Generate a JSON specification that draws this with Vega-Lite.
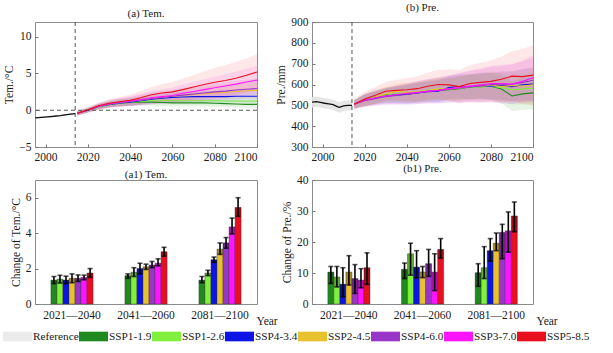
{
"$schema": "https://vega.github.io/schema/vega-lite/v6.json",
"background": "white",
"padding": {"left": 3, "top": 1, "right": 5, "bottom": 3},
"config": {
  "font": "Liberation Serif",
  "view": {"stroke": "#8c8c8c", "strokeWidth": 1},
  "axis": {"grid": false, "domain": false, "tickSize": -3, "tickColor": "#777", "tickCount": 12, "labelPadding": 7, "labelOverlap": false, "labelFont": "Liberation Serif", "labelFontSize": 11.5, "labelColor": "#1a1a1a", "titleFont": "Liberation Serif", "titleFontSize": 11.5, "titleFontWeight": "normal", "titleColor": "#1a1a1a", "titlePadding": 4},
  "title": {"font": "Liberation Serif", "fontSize": 11, "fontWeight": "normal", "color": "#1a1a1a", "offset": 0, "frame": "group"}
},
"datasets": {
"tem": [
{"s":"Reference","yr":1995,"m":-1.05,"lo":-1.15,"hi":-0.95},
{"s":"Reference","yr":1998,"m":-0.98,"lo":-1.08,"hi":-0.88},
{"s":"Reference","yr":2001,"m":-0.9,"lo":-1.0,"hi":-0.8},
{"s":"Reference","yr":2004,"m":-0.82,"lo":-0.92,"hi":-0.72},
{"s":"Reference","yr":2007,"m":-0.72,"lo":-0.82,"hi":-0.62},
{"s":"Reference","yr":2010,"m":-0.6,"lo":-0.7,"hi":-0.5},
{"s":"Reference","yr":2012,"m":-0.52,"lo":-0.62,"hi":-0.42},
{"s":"Reference","yr":2014,"m":-0.45,"lo":-0.55,"hi":-0.35},
{"s":"SSP1-1.9","yr":2015,"m":-0.4,"lo":-0.7,"hi":-0.1},
{"s":"SSP1-1.9","yr":2020,"m":0.0,"lo":-0.3,"hi":0.3},
{"s":"SSP1-1.9","yr":2025,"m":0.45,"lo":0.1,"hi":0.8},
{"s":"SSP1-1.9","yr":2030,"m":0.75,"lo":0.35,"hi":1.15},
{"s":"SSP1-1.9","yr":2035,"m":0.95,"lo":0.55,"hi":1.35},
{"s":"SSP1-1.9","yr":2040,"m":1.05,"lo":0.6,"hi":1.5},
{"s":"SSP1-1.9","yr":2045,"m":1.1,"lo":0.65,"hi":1.55},
{"s":"SSP1-1.9","yr":2050,"m":1.1,"lo":0.6,"hi":1.6},
{"s":"SSP1-1.9","yr":2055,"m":1.05,"lo":0.55,"hi":1.55},
{"s":"SSP1-1.9","yr":2060,"m":1.0,"lo":0.5,"hi":1.5},
{"s":"SSP1-1.9","yr":2065,"m":1.0,"lo":0.5,"hi":1.5},
{"s":"SSP1-1.9","yr":2070,"m":1.0,"lo":0.5,"hi":1.5},
{"s":"SSP1-1.9","yr":2075,"m":1.0,"lo":0.5,"hi":1.5},
{"s":"SSP1-1.9","yr":2080,"m":0.95,"lo":0.45,"hi":1.45},
{"s":"SSP1-1.9","yr":2085,"m":0.9,"lo":0.4,"hi":1.4},
{"s":"SSP1-1.9","yr":2090,"m":0.85,"lo":0.35,"hi":1.35},
{"s":"SSP1-1.9","yr":2095,"m":0.8,"lo":0.3,"hi":1.3},
{"s":"SSP1-1.9","yr":2100,"m":0.8,"lo":0.3,"hi":1.3},
{"s":"SSP1-2.6","yr":2015,"m":-0.4,"lo":-0.7,"hi":-0.1},
{"s":"SSP1-2.6","yr":2020,"m":0.0,"lo":-0.3,"hi":0.3},
{"s":"SSP1-2.6","yr":2025,"m":0.45,"lo":0.1,"hi":0.8},
{"s":"SSP1-2.6","yr":2030,"m":0.8,"lo":0.4,"hi":1.2},
{"s":"SSP1-2.6","yr":2035,"m":1.0,"lo":0.55,"hi":1.45},
{"s":"SSP1-2.6","yr":2040,"m":1.1,"lo":0.6,"hi":1.6},
{"s":"SSP1-2.6","yr":2045,"m":1.2,"lo":0.7,"hi":1.7},
{"s":"SSP1-2.6","yr":2050,"m":1.3,"lo":0.75,"hi":1.85},
{"s":"SSP1-2.6","yr":2055,"m":1.3,"lo":0.75,"hi":1.85},
{"s":"SSP1-2.6","yr":2060,"m":1.3,"lo":0.7,"hi":1.9},
{"s":"SSP1-2.6","yr":2065,"m":1.3,"lo":0.7,"hi":1.9},
{"s":"SSP1-2.6","yr":2070,"m":1.3,"lo":0.7,"hi":1.9},
{"s":"SSP1-2.6","yr":2075,"m":1.3,"lo":0.7,"hi":1.9},
{"s":"SSP1-2.6","yr":2080,"m":1.3,"lo":0.7,"hi":1.9},
{"s":"SSP1-2.6","yr":2085,"m":1.25,"lo":0.65,"hi":1.85},
{"s":"SSP1-2.6","yr":2090,"m":1.25,"lo":0.65,"hi":1.85},
{"s":"SSP1-2.6","yr":2095,"m":1.25,"lo":0.65,"hi":1.85},
{"s":"SSP1-2.6","yr":2100,"m":1.25,"lo":0.65,"hi":1.85},
{"s":"SSP4-3.4","yr":2015,"m":-0.4,"lo":-0.7,"hi":-0.1},
{"s":"SSP4-3.4","yr":2020,"m":0.0,"lo":-0.3,"hi":0.3},
{"s":"SSP4-3.4","yr":2025,"m":0.5,"lo":0.15,"hi":0.85},
{"s":"SSP4-3.4","yr":2030,"m":0.8,"lo":0.4,"hi":1.2},
{"s":"SSP4-3.4","yr":2035,"m":1.0,"lo":0.55,"hi":1.45},
{"s":"SSP4-3.4","yr":2040,"m":1.1,"lo":0.6,"hi":1.6},
{"s":"SSP4-3.4","yr":2045,"m":1.3,"lo":0.75,"hi":1.85},
{"s":"SSP4-3.4","yr":2050,"m":1.5,"lo":0.9,"hi":2.1},
{"s":"SSP4-3.4","yr":2055,"m":1.65,"lo":1.0,"hi":2.3},
{"s":"SSP4-3.4","yr":2060,"m":1.75,"lo":1.05,"hi":2.45},
{"s":"SSP4-3.4","yr":2065,"m":1.8,"lo":1.1,"hi":2.5},
{"s":"SSP4-3.4","yr":2070,"m":1.85,"lo":1.1,"hi":2.6},
{"s":"SSP4-3.4","yr":2075,"m":1.85,"lo":1.1,"hi":2.6},
{"s":"SSP4-3.4","yr":2080,"m":1.85,"lo":1.05,"hi":2.65},
{"s":"SSP4-3.4","yr":2085,"m":1.85,"lo":1.05,"hi":2.65},
{"s":"SSP4-3.4","yr":2090,"m":1.9,"lo":1.1,"hi":2.7},
{"s":"SSP4-3.4","yr":2095,"m":1.9,"lo":1.05,"hi":2.75},
{"s":"SSP4-3.4","yr":2100,"m":1.9,"lo":1.05,"hi":2.75},
{"s":"SSP2-4.5","yr":2015,"m":-0.4,"lo":-0.7,"hi":-0.1},
{"s":"SSP2-4.5","yr":2020,"m":0.0,"lo":-0.3,"hi":0.3},
{"s":"SSP2-4.5","yr":2025,"m":0.5,"lo":0.15,"hi":0.85},
{"s":"SSP2-4.5","yr":2030,"m":0.85,"lo":0.4,"hi":1.3},
{"s":"SSP2-4.5","yr":2035,"m":1.05,"lo":0.55,"hi":1.55},
{"s":"SSP2-4.5","yr":2040,"m":1.2,"lo":0.65,"hi":1.75},
{"s":"SSP2-4.5","yr":2045,"m":1.4,"lo":0.8,"hi":2.0},
{"s":"SSP2-4.5","yr":2050,"m":1.6,"lo":0.9,"hi":2.3},
{"s":"SSP2-4.5","yr":2055,"m":1.75,"lo":1.0,"hi":2.5},
{"s":"SSP2-4.5","yr":2060,"m":1.9,"lo":1.1,"hi":2.7},
{"s":"SSP2-4.5","yr":2065,"m":2.0,"lo":1.15,"hi":2.85},
{"s":"SSP2-4.5","yr":2070,"m":2.15,"lo":1.25,"hi":3.05},
{"s":"SSP2-4.5","yr":2075,"m":2.25,"lo":1.3,"hi":3.2},
{"s":"SSP2-4.5","yr":2080,"m":2.35,"lo":1.35,"hi":3.35},
{"s":"SSP2-4.5","yr":2085,"m":2.45,"lo":1.45,"hi":3.45},
{"s":"SSP2-4.5","yr":2090,"m":2.55,"lo":1.5,"hi":3.6},
{"s":"SSP2-4.5","yr":2095,"m":2.65,"lo":1.55,"hi":3.75},
{"s":"SSP2-4.5","yr":2100,"m":2.7,"lo":1.6,"hi":3.8},
{"s":"SSP4-6.0","yr":2015,"m":-0.4,"lo":-0.7,"hi":-0.1},
{"s":"SSP4-6.0","yr":2020,"m":0.0,"lo":-0.3,"hi":0.3},
{"s":"SSP4-6.0","yr":2025,"m":0.55,"lo":0.15,"hi":0.95},
{"s":"SSP4-6.0","yr":2030,"m":0.85,"lo":0.35,"hi":1.35},
{"s":"SSP4-6.0","yr":2035,"m":1.05,"lo":0.5,"hi":1.6},
{"s":"SSP4-6.0","yr":2040,"m":1.2,"lo":0.6,"hi":1.8},
{"s":"SSP4-6.0","yr":2045,"m":1.4,"lo":0.7,"hi":2.1},
{"s":"SSP4-6.0","yr":2050,"m":1.6,"lo":0.8,"hi":2.4},
{"s":"SSP4-6.0","yr":2055,"m":1.75,"lo":0.9,"hi":2.6},
{"s":"SSP4-6.0","yr":2060,"m":1.9,"lo":1.0,"hi":2.8},
{"s":"SSP4-6.0","yr":2065,"m":2.05,"lo":1.05,"hi":3.05},
{"s":"SSP4-6.0","yr":2070,"m":2.2,"lo":1.15,"hi":3.25},
{"s":"SSP4-6.0","yr":2075,"m":2.35,"lo":1.25,"hi":3.45},
{"s":"SSP4-6.0","yr":2080,"m":2.5,"lo":1.35,"hi":3.65},
{"s":"SSP4-6.0","yr":2085,"m":2.6,"lo":1.4,"hi":3.8},
{"s":"SSP4-6.0","yr":2090,"m":2.75,"lo":1.5,"hi":4.0},
{"s":"SSP4-6.0","yr":2095,"m":2.85,"lo":1.55,"hi":4.15},
{"s":"SSP4-6.0","yr":2100,"m":2.95,"lo":1.6,"hi":4.3},
{"s":"SSP3-7.0","yr":2015,"m":-0.4,"lo":-0.7,"hi":-0.1},
{"s":"SSP3-7.0","yr":2020,"m":0.0,"lo":-0.35,"hi":0.35},
{"s":"SSP3-7.0","yr":2025,"m":0.5,"lo":0.1,"hi":0.9},
{"s":"SSP3-7.0","yr":2030,"m":0.85,"lo":0.35,"hi":1.35},
{"s":"SSP3-7.0","yr":2035,"m":1.05,"lo":0.45,"hi":1.65},
{"s":"SSP3-7.0","yr":2040,"m":1.25,"lo":0.55,"hi":1.95},
{"s":"SSP3-7.0","yr":2045,"m":1.45,"lo":0.65,"hi":2.25},
{"s":"SSP3-7.0","yr":2050,"m":1.7,"lo":0.8,"hi":2.6},
{"s":"SSP3-7.0","yr":2055,"m":1.85,"lo":0.85,"hi":2.85},
{"s":"SSP3-7.0","yr":2060,"m":2.0,"lo":0.9,"hi":3.1},
{"s":"SSP3-7.0","yr":2065,"m":2.3,"lo":1.1,"hi":3.5},
{"s":"SSP3-7.0","yr":2070,"m":2.55,"lo":1.25,"hi":3.85},
{"s":"SSP3-7.0","yr":2075,"m":2.8,"lo":1.4,"hi":4.2},
{"s":"SSP3-7.0","yr":2080,"m":3.05,"lo":1.55,"hi":4.55},
{"s":"SSP3-7.0","yr":2085,"m":3.3,"lo":1.7,"hi":4.9},
{"s":"SSP3-7.0","yr":2090,"m":3.55,"lo":1.85,"hi":5.25},
{"s":"SSP3-7.0","yr":2095,"m":3.85,"lo":2.05,"hi":5.65},
{"s":"SSP3-7.0","yr":2100,"m":4.1,"lo":2.2,"hi":6.0},
{"s":"SSP5-8.5","yr":2015,"m":-0.4,"lo":-0.7,"hi":-0.1},
{"s":"SSP5-8.5","yr":2020,"m":0.05,"lo":-0.3,"hi":0.4},
{"s":"SSP5-8.5","yr":2025,"m":0.6,"lo":0.15,"hi":1.05},
{"s":"SSP5-8.5","yr":2030,"m":0.95,"lo":0.4,"hi":1.5},
{"s":"SSP5-8.5","yr":2035,"m":1.15,"lo":0.5,"hi":1.8},
{"s":"SSP5-8.5","yr":2040,"m":1.35,"lo":0.6,"hi":2.1},
{"s":"SSP5-8.5","yr":2045,"m":1.7,"lo":0.8,"hi":2.6},
{"s":"SSP5-8.5","yr":2050,"m":2.1,"lo":1.05,"hi":3.15},
{"s":"SSP5-8.5","yr":2055,"m":2.35,"lo":1.15,"hi":3.55},
{"s":"SSP5-8.5","yr":2060,"m":2.5,"lo":1.15,"hi":3.85},
{"s":"SSP5-8.5","yr":2065,"m":2.8,"lo":1.3,"hi":4.3},
{"s":"SSP5-8.5","yr":2070,"m":3.15,"lo":1.5,"hi":4.8},
{"s":"SSP5-8.5","yr":2075,"m":3.5,"lo":1.7,"hi":5.3},
{"s":"SSP5-8.5","yr":2080,"m":3.8,"lo":1.85,"hi":5.75},
{"s":"SSP5-8.5","yr":2085,"m":4.05,"lo":1.95,"hi":6.15},
{"s":"SSP5-8.5","yr":2090,"m":4.35,"lo":2.15,"hi":6.55},
{"s":"SSP5-8.5","yr":2095,"m":4.75,"lo":2.45,"hi":7.05},
{"s":"SSP5-8.5","yr":2100,"m":5.2,"lo":2.8,"hi":7.6}
],
"pre": [
{"s":"Reference","yr":1995,"m":515,"lo":490,"hi":540},
{"s":"Reference","yr":1997,"m":518,"lo":493,"hi":543},
{"s":"Reference","yr":1999,"m":514,"lo":489,"hi":539},
{"s":"Reference","yr":2001,"m":510,"lo":485,"hi":535},
{"s":"Reference","yr":2003,"m":507,"lo":482,"hi":532},
{"s":"Reference","yr":2005,"m":503,"lo":478,"hi":528},
{"s":"Reference","yr":2007,"m":494,"lo":469,"hi":519},
{"s":"Reference","yr":2008,"m":490,"lo":465,"hi":515},
{"s":"Reference","yr":2010,"m":497,"lo":472,"hi":522},
{"s":"Reference","yr":2012,"m":500,"lo":475,"hi":525},
{"s":"Reference","yr":2014,"m":500,"lo":475,"hi":525},
{"s":"SSP1-1.9","yr":2015,"m":505,"lo":485,"hi":525},
{"s":"SSP1-1.9","yr":2020,"m":525,"lo":497,"hi":553},
{"s":"SSP1-1.9","yr":2025,"m":540,"lo":508,"hi":572},
{"s":"SSP1-1.9","yr":2030,"m":550,"lo":514,"hi":586},
{"s":"SSP1-1.9","yr":2035,"m":553,"lo":513,"hi":593},
{"s":"SSP1-1.9","yr":2040,"m":555,"lo":510,"hi":600},
{"s":"SSP1-1.9","yr":2045,"m":560,"lo":512,"hi":608},
{"s":"SSP1-1.9","yr":2050,"m":568,"lo":518,"hi":618},
{"s":"SSP1-1.9","yr":2055,"m":572,"lo":519,"hi":625},
{"s":"SSP1-1.9","yr":2060,"m":575,"lo":520,"hi":630},
{"s":"SSP1-1.9","yr":2065,"m":580,"lo":522,"hi":638},
{"s":"SSP1-1.9","yr":2070,"m":588,"lo":528,"hi":648},
{"s":"SSP1-1.9","yr":2075,"m":590,"lo":528,"hi":652},
{"s":"SSP1-1.9","yr":2080,"m":592,"lo":527,"hi":657},
{"s":"SSP1-1.9","yr":2085,"m":578,"lo":510,"hi":646},
{"s":"SSP1-1.9","yr":2090,"m":545,"lo":473,"hi":617},
{"s":"SSP1-1.9","yr":2095,"m":555,"lo":479,"hi":631},
{"s":"SSP1-1.9","yr":2100,"m":560,"lo":480,"hi":640},
{"s":"SSP1-2.6","yr":2015,"m":505,"lo":485,"hi":525},
{"s":"SSP1-2.6","yr":2020,"m":528,"lo":500,"hi":556},
{"s":"SSP1-2.6","yr":2025,"m":538,"lo":506,"hi":570},
{"s":"SSP1-2.6","yr":2030,"m":548,"lo":512,"hi":584},
{"s":"SSP1-2.6","yr":2035,"m":555,"lo":515,"hi":595},
{"s":"SSP1-2.6","yr":2040,"m":560,"lo":515,"hi":605},
{"s":"SSP1-2.6","yr":2045,"m":565,"lo":517,"hi":613},
{"s":"SSP1-2.6","yr":2050,"m":572,"lo":522,"hi":622},
{"s":"SSP1-2.6","yr":2055,"m":578,"lo":525,"hi":631},
{"s":"SSP1-2.6","yr":2060,"m":580,"lo":525,"hi":635},
{"s":"SSP1-2.6","yr":2065,"m":582,"lo":524,"hi":640},
{"s":"SSP1-2.6","yr":2070,"m":590,"lo":530,"hi":650},
{"s":"SSP1-2.6","yr":2075,"m":588,"lo":526,"hi":650},
{"s":"SSP1-2.6","yr":2080,"m":592,"lo":527,"hi":657},
{"s":"SSP1-2.6","yr":2085,"m":585,"lo":517,"hi":653},
{"s":"SSP1-2.6","yr":2090,"m":575,"lo":503,"hi":647},
{"s":"SSP1-2.6","yr":2095,"m":578,"lo":502,"hi":654},
{"s":"SSP1-2.6","yr":2100,"m":582,"lo":502,"hi":662},
{"s":"SSP4-3.4","yr":2015,"m":505,"lo":485,"hi":525},
{"s":"SSP4-3.4","yr":2020,"m":525,"lo":497,"hi":553},
{"s":"SSP4-3.4","yr":2025,"m":535,"lo":503,"hi":567},
{"s":"SSP4-3.4","yr":2030,"m":545,"lo":509,"hi":581},
{"s":"SSP4-3.4","yr":2035,"m":550,"lo":510,"hi":590},
{"s":"SSP4-3.4","yr":2040,"m":553,"lo":508,"hi":598},
{"s":"SSP4-3.4","yr":2045,"m":560,"lo":512,"hi":608},
{"s":"SSP4-3.4","yr":2050,"m":565,"lo":515,"hi":615},
{"s":"SSP4-3.4","yr":2055,"m":568,"lo":515,"hi":621},
{"s":"SSP4-3.4","yr":2060,"m":585,"lo":530,"hi":640},
{"s":"SSP4-3.4","yr":2065,"m":590,"lo":532,"hi":648},
{"s":"SSP4-3.4","yr":2070,"m":588,"lo":528,"hi":648},
{"s":"SSP4-3.4","yr":2075,"m":595,"lo":533,"hi":657},
{"s":"SSP4-3.4","yr":2080,"m":592,"lo":527,"hi":657},
{"s":"SSP4-3.4","yr":2085,"m":595,"lo":527,"hi":663},
{"s":"SSP4-3.4","yr":2090,"m":590,"lo":518,"hi":662},
{"s":"SSP4-3.4","yr":2095,"m":598,"lo":522,"hi":674},
{"s":"SSP4-3.4","yr":2100,"m":602,"lo":522,"hi":682},
{"s":"SSP2-4.5","yr":2015,"m":505,"lo":485,"hi":525},
{"s":"SSP2-4.5","yr":2020,"m":522,"lo":494,"hi":550},
{"s":"SSP2-4.5","yr":2025,"m":540,"lo":508,"hi":572},
{"s":"SSP2-4.5","yr":2030,"m":555,"lo":519,"hi":591},
{"s":"SSP2-4.5","yr":2035,"m":568,"lo":528,"hi":608},
{"s":"SSP2-4.5","yr":2040,"m":562,"lo":517,"hi":607},
{"s":"SSP2-4.5","yr":2045,"m":565,"lo":517,"hi":613},
{"s":"SSP2-4.5","yr":2050,"m":570,"lo":520,"hi":620},
{"s":"SSP2-4.5","yr":2055,"m":580,"lo":527,"hi":633},
{"s":"SSP2-4.5","yr":2060,"m":578,"lo":523,"hi":633},
{"s":"SSP2-4.5","yr":2065,"m":585,"lo":527,"hi":643},
{"s":"SSP2-4.5","yr":2070,"m":590,"lo":530,"hi":650},
{"s":"SSP2-4.5","yr":2075,"m":592,"lo":530,"hi":654},
{"s":"SSP2-4.5","yr":2080,"m":598,"lo":533,"hi":663},
{"s":"SSP2-4.5","yr":2085,"m":590,"lo":522,"hi":658},
{"s":"SSP2-4.5","yr":2090,"m":595,"lo":523,"hi":667},
{"s":"SSP2-4.5","yr":2095,"m":592,"lo":516,"hi":668},
{"s":"SSP2-4.5","yr":2100,"m":598,"lo":518,"hi":678},
{"s":"SSP4-6.0","yr":2015,"m":505,"lo":485,"hi":525},
{"s":"SSP4-6.0","yr":2020,"m":522,"lo":492,"hi":552},
{"s":"SSP4-6.0","yr":2025,"m":532,"lo":497,"hi":567},
{"s":"SSP4-6.0","yr":2030,"m":542,"lo":502,"hi":582},
{"s":"SSP4-6.0","yr":2035,"m":548,"lo":503,"hi":593},
{"s":"SSP4-6.0","yr":2040,"m":552,"lo":502,"hi":602},
{"s":"SSP4-6.0","yr":2045,"m":560,"lo":505,"hi":615},
{"s":"SSP4-6.0","yr":2050,"m":568,"lo":510,"hi":626},
{"s":"SSP4-6.0","yr":2055,"m":572,"lo":510,"hi":634},
{"s":"SSP4-6.0","yr":2060,"m":578,"lo":513,"hi":643},
{"s":"SSP4-6.0","yr":2065,"m":583,"lo":513,"hi":653},
{"s":"SSP4-6.0","yr":2070,"m":590,"lo":515,"hi":665},
{"s":"SSP4-6.0","yr":2075,"m":592,"lo":512,"hi":672},
{"s":"SSP4-6.0","yr":2080,"m":600,"lo":515,"hi":685},
{"s":"SSP4-6.0","yr":2085,"m":598,"lo":508,"hi":688},
{"s":"SSP4-6.0","yr":2090,"m":602,"lo":507,"hi":697},
{"s":"SSP4-6.0","yr":2095,"m":610,"lo":510,"hi":710},
{"s":"SSP4-6.0","yr":2100,"m":620,"lo":510,"hi":730},
{"s":"SSP3-7.0","yr":2015,"m":505,"lo":485,"hi":525},
{"s":"SSP3-7.0","yr":2020,"m":524,"lo":494,"hi":554},
{"s":"SSP3-7.0","yr":2025,"m":536,"lo":501,"hi":571},
{"s":"SSP3-7.0","yr":2030,"m":545,"lo":505,"hi":585},
{"s":"SSP3-7.0","yr":2035,"m":552,"lo":507,"hi":597},
{"s":"SSP3-7.0","yr":2040,"m":558,"lo":508,"hi":608},
{"s":"SSP3-7.0","yr":2045,"m":562,"lo":507,"hi":617},
{"s":"SSP3-7.0","yr":2050,"m":567,"lo":509,"hi":625},
{"s":"SSP3-7.0","yr":2055,"m":572,"lo":510,"hi":634},
{"s":"SSP3-7.0","yr":2060,"m":580,"lo":515,"hi":645},
{"s":"SSP3-7.0","yr":2065,"m":585,"lo":515,"hi":655},
{"s":"SSP3-7.0","yr":2070,"m":592,"lo":517,"hi":667},
{"s":"SSP3-7.0","yr":2075,"m":598,"lo":518,"hi":678},
{"s":"SSP3-7.0","yr":2080,"m":605,"lo":520,"hi":690},
{"s":"SSP3-7.0","yr":2085,"m":605,"lo":515,"hi":695},
{"s":"SSP3-7.0","yr":2090,"m":602,"lo":507,"hi":697},
{"s":"SSP3-7.0","yr":2095,"m":615,"lo":515,"hi":715},
{"s":"SSP3-7.0","yr":2100,"m":632,"lo":522,"hi":742},
{"s":"SSP5-8.5","yr":2015,"m":505,"lo":480,"hi":530},
{"s":"SSP5-8.5","yr":2020,"m":530,"lo":495,"hi":565},
{"s":"SSP5-8.5","yr":2025,"m":548,"lo":508,"hi":588},
{"s":"SSP5-8.5","yr":2030,"m":568,"lo":523,"hi":613},
{"s":"SSP5-8.5","yr":2035,"m":572,"lo":522,"hi":622},
{"s":"SSP5-8.5","yr":2040,"m":575,"lo":520,"hi":630},
{"s":"SSP5-8.5","yr":2045,"m":580,"lo":520,"hi":640},
{"s":"SSP5-8.5","yr":2050,"m":592,"lo":527,"hi":657},
{"s":"SSP5-8.5","yr":2055,"m":600,"lo":530,"hi":670},
{"s":"SSP5-8.5","yr":2060,"m":598,"lo":523,"hi":673},
{"s":"SSP5-8.5","yr":2065,"m":590,"lo":510,"hi":670},
{"s":"SSP5-8.5","yr":2070,"m":605,"lo":517,"hi":693},
{"s":"SSP5-8.5","yr":2075,"m":610,"lo":515,"hi":705},
{"s":"SSP5-8.5","yr":2080,"m":615,"lo":515,"hi":715},
{"s":"SSP5-8.5","yr":2085,"m":625,"lo":515,"hi":735},
{"s":"SSP5-8.5","yr":2090,"m":640,"lo":520,"hi":760},
{"s":"SSP5-8.5","yr":2095,"m":638,"lo":506,"hi":770},
{"s":"SSP5-8.5","yr":2100,"m":645,"lo":500,"hi":790}
],
"tbar": [
{"per":"2021—2040","s":"SSP1-1.9","m":1.35,"lo":1.15,"hi":1.55},
{"per":"2021—2040","s":"SSP1-2.6","m":1.4,"lo":1.18,"hi":1.62},
{"per":"2021—2040","s":"SSP4-3.4","m":1.35,"lo":1.15,"hi":1.57},
{"per":"2021—2040","s":"SSP2-4.5","m":1.45,"lo":1.2,"hi":1.7},
{"per":"2021—2040","s":"SSP4-6.0","m":1.45,"lo":1.27,"hi":1.64},
{"per":"2021—2040","s":"SSP3-7.0","m":1.5,"lo":1.36,"hi":1.63},
{"per":"2021—2040","s":"SSP5-8.5","m":1.75,"lo":1.5,"hi":2.0},
{"per":"2041—2060","s":"SSP1-1.9","m":1.6,"lo":1.45,"hi":1.7},
{"per":"2041—2060","s":"SSP1-2.6","m":1.8,"lo":1.55,"hi":2.05},
{"per":"2041—2060","s":"SSP4-3.4","m":2.0,"lo":1.7,"hi":2.3},
{"per":"2041—2060","s":"SSP2-4.5","m":2.1,"lo":1.95,"hi":2.25},
{"per":"2041—2060","s":"SSP4-6.0","m":2.2,"lo":2.05,"hi":2.4},
{"per":"2041—2060","s":"SSP3-7.0","m":2.3,"lo":2.15,"hi":2.55},
{"per":"2041—2060","s":"SSP5-8.5","m":2.95,"lo":2.7,"hi":3.2},
{"per":"2081—2100","s":"SSP1-1.9","m":1.35,"lo":1.2,"hi":1.55},
{"per":"2081—2100","s":"SSP1-2.6","m":1.75,"lo":1.6,"hi":1.9},
{"per":"2081—2100","s":"SSP4-3.4","m":2.5,"lo":2.35,"hi":2.65},
{"per":"2081—2100","s":"SSP2-4.5","m":3.1,"lo":2.8,"hi":3.45},
{"per":"2081—2100","s":"SSP4-6.0","m":3.45,"lo":3.15,"hi":3.75},
{"per":"2081—2100","s":"SSP3-7.0","m":4.35,"lo":3.95,"hi":4.85},
{"per":"2081—2100","s":"SSP5-8.5","m":5.45,"lo":4.95,"hi":6.0}
],
"pbar": [
{"per":"2021—2040","s":"SSP1-1.9","m":10.3,"lo":6.6,"hi":12.1},
{"per":"2021—2040","s":"SSP1-2.6","m":8.7,"lo":5.5,"hi":12.1},
{"per":"2021—2040","s":"SSP4-3.4","m":6.4,"lo":2.3,"hi":11.7},
{"per":"2021—2040","s":"SSP2-4.5","m":10.3,"lo":6.1,"hi":15.6},
{"per":"2021—2040","s":"SSP4-6.0","m":8.2,"lo":3.4,"hi":12.7},
{"per":"2021—2040","s":"SSP3-7.0","m":7.7,"lo":5.2,"hi":11.4},
{"per":"2021—2040","s":"SSP5-8.5","m":11.7,"lo":6.3,"hi":16.5},
{"per":"2041—2060","s":"SSP1-1.9","m":11.2,"lo":8.2,"hi":13.2},
{"per":"2041—2060","s":"SSP1-2.6","m":16.2,"lo":9.3,"hi":19.6},
{"per":"2041—2060","s":"SSP4-3.4","m":11.9,"lo":8.4,"hi":17.2},
{"per":"2041—2060","s":"SSP2-4.5","m":10.3,"lo":8.5,"hi":12.1},
{"per":"2041—2060","s":"SSP4-6.0","m":13.0,"lo":8.9,"hi":17.6},
{"per":"2041—2060","s":"SSP3-7.0","m":10.3,"lo":4.3,"hi":16.2},
{"per":"2041—2060","s":"SSP5-8.5","m":17.6,"lo":14.8,"hi":21.1},
{"per":"2081—2100","s":"SSP1-1.9","m":10.1,"lo":5.7,"hi":13.0},
{"per":"2081—2100","s":"SSP1-2.6","m":11.7,"lo":8.2,"hi":18.5},
{"per":"2081—2100","s":"SSP4-3.4","m":17.2,"lo":13.8,"hi":21.1},
{"per":"2081—2100","s":"SSP2-4.5","m":19.6,"lo":17.2,"hi":22.9},
{"per":"2081—2100","s":"SSP4-6.0","m":23.1,"lo":14.6,"hi":25.7},
{"per":"2081—2100","s":"SSP3-7.0","m":23.6,"lo":16.7,"hi":29.7},
{"per":"2081—2100","s":"SSP5-8.5","m":28.4,"lo":23.3,"hi":32.9}
]
},
"columns": 2,
"spacing": {"row": 33, "column": 55},
"bounds": "flush",
"concat": [
{
  "width": 222, "height": 125,
  "title": {"text": "(a) Tem.", "dy": 1},
  "layer": [
    {"data": {"name": "tem"}, "transform": [{"filter": "datum.s !== 'Reference'"}],
     "mark": {"type": "area", "fillOpacity": 0.1},
     "encoding": {
       "x": {"field": "yr", "type": "quantitative", "scale": {"domain": [1995, 2100], "nice": false, "zero": false}, "axis": {"title": null, "values": [2000,2020,2040,2060,2080,2100], "format": "d", "labelOverlap": false, "tickCount": 12}},
       "y": {"field": "lo", "type": "quantitative", "stack": null, "scale": {"domain": [-5, 12], "nice": false}, "axis": {"title": "Tem./°C", "values": [-5,0,5,10], "format": "d", "labelOverlap": false, "tickCount": 12}},
       "y2": {"field": "hi"},
       "fill": {"field": "s", "type": "nominal", "scale": {"domain": ["SSP1-1.9","SSP1-2.6","SSP4-3.4","SSP2-4.5","SSP4-6.0","SSP3-7.0","SSP5-8.5"], "range": ["#1f8b1f","#80f03c","#0c14e6","#e8c22e","#9a35c9","#ff14ff","#e8101e"]}, "legend": null}
     }},
    {"data": {"name": "tem"}, "transform": [{"filter": "datum.s === 'Reference'"}],
     "mark": {"type": "area", "opacity": 0.9, "color": "#e3e3e3"},
     "encoding": {
       "x": {"field": "yr", "type": "quantitative", "title": null},
       "y": {"field": "lo", "type": "quantitative", "stack": null, "title": "Tem./°C"},
       "y2": {"field": "hi"}
     }},
    {"data": {"name": "tem"}, "transform": [{"filter": "datum.s !== 'Reference'"}],
     "mark": {"type": "line", "strokeWidth": 1.1},
     "encoding": {
       "x": {"field": "yr", "type": "quantitative", "title": null},
       "y": {"field": "m", "type": "quantitative", "title": "Tem./°C"},
       "stroke": {"field": "s", "type": "nominal", "scale": {"domain": ["SSP1-1.9","SSP1-2.6","SSP4-3.4","SSP2-4.5","SSP4-6.0","SSP3-7.0","SSP5-8.5"], "range": ["#1f8b1f","#80f03c","#0c14e6","#e8c22e","#9a35c9","#ff14ff","#e8101e"]}, "legend": null}
     }},
    {"data": {"name": "tem"}, "transform": [{"filter": "datum.s === 'Reference'"}],
     "mark": {"type": "line", "strokeWidth": 1.3, "color": "#111"},
     "encoding": {
       "x": {"field": "yr", "type": "quantitative", "title": null},
       "y": {"field": "m", "type": "quantitative", "title": "Tem./°C"}
     }},
    {"data": {"values": [{}]}, "mark": {"type": "rule", "strokeDash": [4, 3], "color": "#444", "strokeWidth": 0.9},
     "encoding": {"x": {"datum": 2014, "type": "quantitative"}}},
    {"data": {"values": [{}]}, "mark": {"type": "rule", "strokeDash": [4, 3], "color": "#444", "strokeWidth": 0.9},
     "encoding": {"y": {"datum": 0, "type": "quantitative"}}}
  ]
},
{
  "width": 221, "height": 125,
  "title": {"text": "(b) Pre.", "dy": 1},
  "layer": [
    {"data": {"name": "pre"}, "transform": [{"filter": "datum.s !== 'Reference'"}],
     "mark": {"type": "area", "fillOpacity": 0.1},
     "encoding": {
       "x": {"field": "yr", "type": "quantitative", "scale": {"domain": [1995, 2100], "nice": false, "zero": false}, "axis": {"title": null, "values": [2000,2020,2040,2060,2080,2100], "format": "d", "labelOverlap": false, "tickCount": 12}},
       "y": {"field": "lo", "type": "quantitative", "stack": null, "scale": {"domain": [300, 900], "nice": false, "zero": false}, "axis": {"title": "Pre./mm", "values": [300,400,500,600,700,800,900], "format": "d", "labelOverlap": false, "tickCount": 12}},
       "y2": {"field": "hi"},
       "fill": {"field": "s", "type": "nominal", "legend": null}
     }},
    {"data": {"name": "pre"}, "transform": [{"filter": "datum.s === 'Reference'"}],
     "mark": {"type": "area", "opacity": 0.9, "color": "#e3e3e3"},
     "encoding": {
       "x": {"field": "yr", "type": "quantitative", "title": null},
       "y": {"field": "lo", "type": "quantitative", "stack": null, "title": "Pre./mm"},
       "y2": {"field": "hi"}
     }},
    {"data": {"name": "pre"}, "transform": [{"filter": "datum.s !== 'Reference'"}],
     "mark": {"type": "line", "strokeWidth": 1.1},
     "encoding": {
       "x": {"field": "yr", "type": "quantitative", "title": null},
       "y": {"field": "m", "type": "quantitative", "title": "Pre./mm"},
       "stroke": {"field": "s", "type": "nominal", "legend": null}
     }},
    {"data": {"name": "pre"}, "transform": [{"filter": "datum.s === 'Reference'"}],
     "mark": {"type": "line", "strokeWidth": 1.3, "color": "#111"},
     "encoding": {
       "x": {"field": "yr", "type": "quantitative", "title": null},
       "y": {"field": "m", "type": "quantitative", "title": "Pre./mm"}
     }},
    {"data": {"values": [{}]}, "mark": {"type": "rule", "strokeDash": [4, 3], "color": "#444", "strokeWidth": 0.9},
     "encoding": {"x": {"datum": 2014, "type": "quantitative"}}}
  ]
},
{
  "width": 222, "height": 124,
  "title": {"text": "(a1) Tem.", "dy": 4},
  "data": {"name": "tbar"},
  "encoding": {
    "x": {"field": "per", "type": "nominal", "sort": null, "scale": {"paddingInner": 0.43, "paddingOuter": 0.215}, "axis": {"title": "Year", "labelAngle": 0, "ticks": false, "labelPadding": 5, "titleX": 221, "titleY": 17, "titleAlign": "left", "titleBaseline": "middle", "titleAnchor": "end"}},
    "xOffset": {"field": "s", "type": "nominal", "scale": {"domain": ["SSP1-1.9","SSP1-2.6","SSP4-3.4","SSP2-4.5","SSP4-6.0","SSP3-7.0","SSP5-8.5"], "paddingInner": 0}}
  },
  "layer": [
    {"mark": {"type": "bar", "stroke": "#333", "strokeWidth": 0.4},
     "encoding": {
       "y": {"field": "m", "type": "quantitative", "scale": {"domain": [0, 7], "nice": false}, "axis": {"title": "Change of Tem./°C", "values": [0,2,4,6], "format": "d", "labelOverlap": false, "tickCount": 12}},
       "color": {"field": "s", "type": "nominal", "scale": {"domain": ["Reference","SSP1-1.9","SSP1-2.6","SSP4-3.4","SSP2-4.5","SSP4-6.0","SSP3-7.0","SSP5-8.5"], "range": ["#ebebeb","#1f8b1f","#80f03c","#0c14e6","#e8c22e","#9a35c9","#ff14ff","#e8101e"]}, "legend": {"title": null, "orient": "none", "legendX": -32, "legendY": 300, "direction": "horizontal", "columns": 8, "symbolType": "M-1,-0.333H1V0.333H-1Z", "symbolSize": 841, "symbolStrokeWidth": 0, "symbolOpacity": 1, "labelFont": "Liberation Serif", "labelFontSize": 11.3, "labelColor": "#1a1a1a", "labelOffset": 1, "columnPadding": 0, "gridAlign": "none"}}
     }},
    {"mark": {"type": "bar", "color": "black", "opacity": 0.28},
     "encoding": {"y": {"field": "lo", "type": "quantitative", "title": "Change of Tem./°C"}, "y2": {"field": "m"}}},
    {"mark": {"type": "rule", "color": "black", "strokeWidth": 1.6},
     "encoding": {"y": {"field": "lo", "type": "quantitative", "title": "Change of Tem./°C"}, "y2": {"field": "hi"}}},
    {"mark": {"type": "tick", "color": "black", "thickness": 1.6, "size": 5},
     "encoding": {"y": {"field": "lo", "type": "quantitative", "title": "Change of Tem./°C"}}},
    {"mark": {"type": "tick", "color": "black", "thickness": 1.6, "size": 5},
     "encoding": {"y": {"field": "hi", "type": "quantitative", "title": "Change of Tem./°C"}}}
  ]
},
{
  "width": 221, "height": 124,
  "title": {"text": "(b1) Pre.", "dy": 4},
  "data": {"name": "pbar"},
  "encoding": {
    "x": {"field": "per", "type": "nominal", "sort": null, "scale": {"paddingInner": 0.43, "paddingOuter": 0.215}, "axis": {"title": "Year", "labelAngle": 0, "ticks": false, "labelPadding": 5, "titleX": 224, "titleY": 17, "titleAlign": "left", "titleBaseline": "middle", "titleAnchor": "end"}},
    "xOffset": {"field": "s", "type": "nominal", "scale": {"domain": ["SSP1-1.9","SSP1-2.6","SSP4-3.4","SSP2-4.5","SSP4-6.0","SSP3-7.0","SSP5-8.5"], "paddingInner": 0}}
  },
  "layer": [
    {"mark": {"type": "bar", "stroke": "#333", "strokeWidth": 0.4},
     "encoding": {
       "y": {"field": "m", "type": "quantitative", "scale": {"domain": [0, 40], "nice": false}, "axis": {"title": "Change of Pre./%", "values": [0,10,20,30,40], "format": "d", "labelOverlap": false, "tickCount": 12}},
       "color": {"field": "s", "type": "nominal", "legend": {"title": null, "orient": "none", "legendX": -32, "legendY": 300, "direction": "horizontal", "columns": 8, "symbolType": "M-1,-0.333H1V0.333H-1Z", "symbolSize": 841, "symbolStrokeWidth": 0, "symbolOpacity": 1, "labelFont": "Liberation Serif", "labelFontSize": 11.3, "labelColor": "#1a1a1a", "labelOffset": 1, "columnPadding": 0, "gridAlign": "none"}}
     }},
    {"mark": {"type": "bar", "color": "black", "opacity": 0.28},
     "encoding": {"y": {"field": "lo", "type": "quantitative", "title": "Change of Pre./%"}, "y2": {"field": "m"}}},
    {"mark": {"type": "rule", "color": "black", "strokeWidth": 1.6},
     "encoding": {"y": {"field": "lo", "type": "quantitative", "title": "Change of Pre./%"}, "y2": {"field": "hi"}}},
    {"mark": {"type": "tick", "color": "black", "thickness": 1.6, "size": 5},
     "encoding": {"y": {"field": "lo", "type": "quantitative", "title": "Change of Pre./%"}}},
    {"mark": {"type": "tick", "color": "black", "thickness": 1.6, "size": 5},
     "encoding": {"y": {"field": "hi", "type": "quantitative", "title": "Change of Pre./%"}}}
  ]
}
]
}
